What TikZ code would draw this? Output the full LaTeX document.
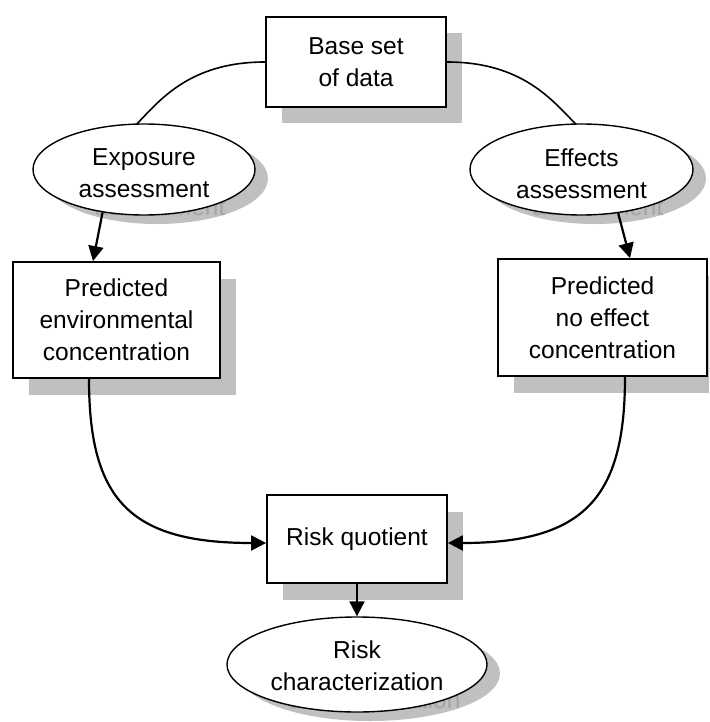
\documentclass[tikz,border=0pt]{standalone}
\usepackage{fontspec}
\setmainfont{Liberation Sans}
\usetikzlibrary{shapes.geometric,arrows.meta,calc}
\definecolor{shadowgray}{HTML}{C0C0C0}
\definecolor{ghostgray}{HTML}{A4A4A4}
\begin{document}
\begin{tikzpicture}[x=1pt,y=-1pt,
  txt/.style={font=\fontsize{24.5}{32}\selectfont, align=center, text=black, inner sep=0pt},
  ghost/.style={font=\fontsize{24.5}{32}\selectfont, text=ghostgray, inner sep=0pt, anchor=base},
  box/.style={draw=black, line width=1.8pt, fill=white, rectangle, inner sep=0pt},
  oval/.style={draw=black, line width=1.4pt, fill=white, ellipse, inner sep=0pt},
  shbox/.style={fill=shadowgray, draw=none, rectangle, inner sep=0pt},
  shoval/.style={fill=shadowgray, draw=none, ellipse, inner sep=0pt},
  link/.style={draw=black, line width=1.6pt},
  arr/.style={draw=black, line width=2.2pt, -{Triangle[length=15pt,width=15pt]}},
]
\useasboundingbox (0,0) rectangle (709,722);
\clip (0,0) rectangle (709,722);

% shadows
\node[shbox, minimum width=180pt, minimum height=90pt] (baseS) at (372,78) {};
\node[shoval, minimum width=222pt, minimum height=91pt] (expoS) at (157,178.5) {};
\node[shoval, minimum width=223pt, minimum height=91pt] (effS) at (594.5,178.5) {};
\node[shbox, minimum width=207pt, minimum height=116pt] (envS) at (132.5,337) {};
\node[shbox, minimum width=209pt, minimum height=117pt] (nefS) at (618.5,334.5) {};
\node[shbox, minimum width=180pt, minimum height=88pt] (rqS) at (373,556) {};
\node[shoval, minimum width=260pt, minimum height=95pt] (rcS) at (370,673.5) {};

% ghost texts of the shadows (only their last lines show)
\node[ghost] (expoG) at (160,215) {assessment};
\node[ghost] (effG) at (598,215) {assessment};
\node[ghost] (envG) at (133.5,378) {concentration};
\node[ghost] (nefG) at (619.5,375.5) {concentration};
\node[ghost] (rcG) at (374,708) {characterization};

% main shapes
\node[box, minimum width=180pt, minimum height=90pt, txt] (base) at (356,62) {Base set\\of data};
\node[oval, minimum width=222pt, minimum height=91pt] (expo) at (144,169.5) {};
\node[txt] (expoT) at (144,173.5) {Exposure\\assessment};
\node[oval, minimum width=223pt, minimum height=91pt] (eff) at (581.5,169.5) {};
\node[txt] (effT) at (581.5,173.5) {Effects\\assessment};
\node[box, minimum width=207pt, minimum height=116pt, txt] (env) at (116.5,320) {Predicted\\environmental\\concentration};
\node[box, minimum width=209pt, minimum height=117pt, txt] (nef) at (602.5,317.5) {Predicted\\no effect\\concentration};
\node[box, minimum width=180pt, minimum height=88pt, txt] (rq) at (357,539) {Risk quotient};
\node[oval, minimum width=260pt, minimum height=95pt] (rc) at (357,664.5) {};
\node[txt] (rcT) at (357,666) {Risk\\characterization};

% connectors
\draw[link] ($(expo.north)+(-7,0.5)$) .. controls (160,100) and (190,62) .. (base.west);
\draw[link] (base.east) .. controls (522,62) and (552,100) .. ($(eff.north)+(-6,0.5)$);
\draw[arr] (expo.226) -- ($(env.north)+(-23.5,0)$);
\draw[arr] (eff.310) -- ($(nef.north)+(27.5,0)$);
\draw[arr] ($(env.south)+(-27.5,0)$) .. controls (89,500) and (130,543) .. ($(rq.west)+(0,4)$);
\draw[arr] ($(nef.south)+(22.5,0)$) .. controls (625,497) and (585,543) .. ($(rq.east)+(0,4)$);
\draw[arr] (rq.south) -- (rc.north);
\end{tikzpicture}
\end{document}
